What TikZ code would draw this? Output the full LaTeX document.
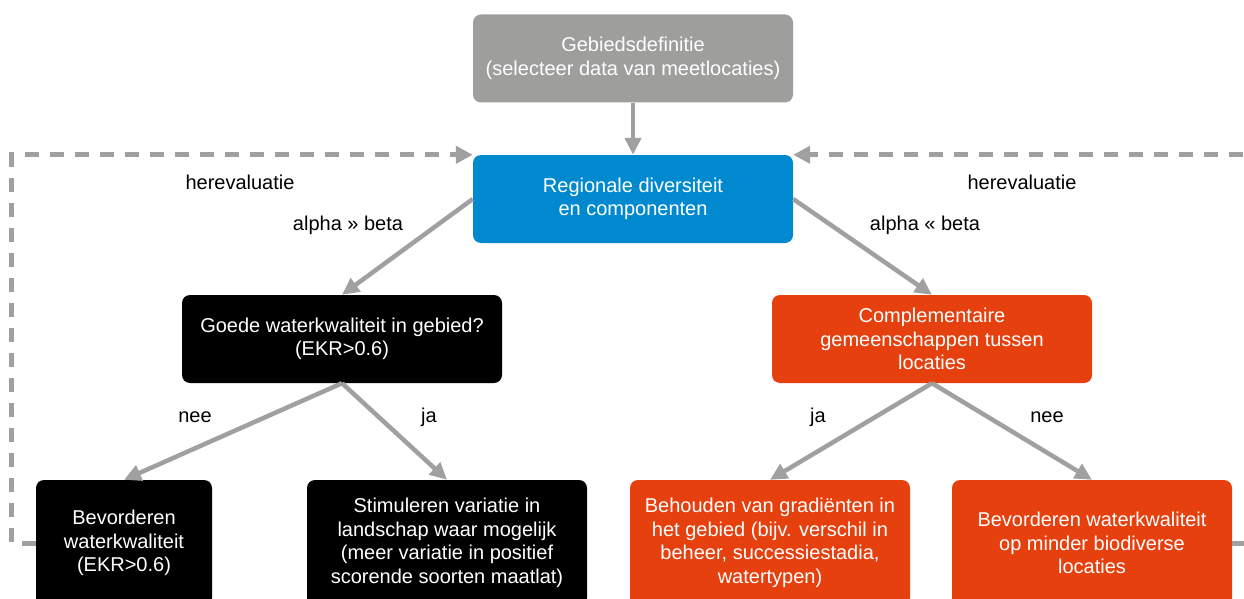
\documentclass[tikz,border=0pt]{standalone}
\usepackage{fontspec}
\setmainfont{Liberation Sans}
\usetikzlibrary{positioning, arrows.meta}
\definecolor{grijs}{RGB}{158,158,157}
\definecolor{blauw}{RGB}{0,137,207}
\definecolor{oranje}{RGB}{229,64,14}
\definecolor{pijl}{RGB}{160,160,160}
\tikzset{
  arr/.style={-{Triangle[length=17pt,width=16pt]}, line width=4.5pt, draw=pijl},
  barr/.style={-{Triangle[length=17pt,width=17pt]}, line width=5pt, draw=pijl,
    dash pattern=on 14pt off 11pt},
  blk/.style={rounded corners=8pt, align=center, text=white, inner sep=4pt,
    minimum width=320pt, minimum height=88pt},
  lowblk/.style={rounded corners=8pt, align=center, text=white, inner sep=4pt,
    minimum height=126pt},
  lab/.style={align=center, inner sep=1pt, text=black}
}

\begin{document}
\begin{tikzpicture}[x=1pt, y=1pt, font=\fontsize{20}{23.5}\selectfont]
\useasboundingbox (0,0) rectangle (1244,-599);
% ---------- boxes ----------
\node[blk, fill=grijs] (gebied) at (633,-58.5)
  {Gebiedsdefinitie\\(selecteer data van meetlocaties)};
\node[blk, fill=blauw] (regio) at (633,-199)
  {Regionale diversiteit\\en componenten};
\node[blk, fill=black] (kwal) at (342,-339)
  {Goede waterkwaliteit in gebied?\\(EKR>0.6)};
\node[blk, fill=oranje] (compl) at (932,-339)
  {Complementaire\\gemeenschappen tussen\\locaties};
% ---------- bottom row ----------
\node[lowblk, fill=black, minimum width=176pt] (bevord) at (124,-543)
  {Bevorderen\\waterkwaliteit\\(EKR>0.6)};
\node[lowblk, fill=black, minimum width=280pt] (stim) at (447,-543)
  {Stimuleren variatie in\\landschap waar mogelijk\\(meer variatie in positief\\scorende soorten maatlat)};
\node[lowblk, fill=oranje, minimum width=280pt] (behoud) at (770,-543)
  {Behouden van gradiënten in\\het gebied (bijv. verschil in\\beheer, successiestadia,\\watertypen)};
\node[lowblk, fill=oranje, minimum width=280pt] (bevordb) at (1092,-543)
  {Bevorderen waterkwaliteit\\op minder biodiverse\\locaties};
% ---------- labels ----------
\node[lab] (herl) at (240,-182) {herevaluatie};
\node[lab] (herr) at (1022,-182) {herevaluatie};
\node[lab] (agb) at (348,-225) {alpha » beta};
\node[lab] (alb) at (925,-225) {alpha « beta};
\node[lab] (neel) at (195,-417) {nee};
\node[lab] (jal) at (429,-417) {ja};
\node[lab] (jar) at (818,-417) {ja};
\node[lab] (neer) at (1047,-417) {nee};
% ---------- connections ----------
\draw[arr] (gebied) -- (regio);
\draw[arr] (regio.west) -- (kwal.north);
\draw[arr] (regio.east) -- (compl.north);
\draw[arr] (kwal.south) -- (bevord.north);
\draw[arr] (kwal.south) -- (stim.north);
\draw[arr] (compl.south) -- (behoud.north);
\draw[arr] (compl.south) -- (bevordb.north);
\draw[barr] (bevord.west) -- ++(-24,0) |- (regio.north west);
\draw[barr] (bevordb.east) -- ++(24,0) |- (regio.north east);
\end{tikzpicture}
\end{document}
